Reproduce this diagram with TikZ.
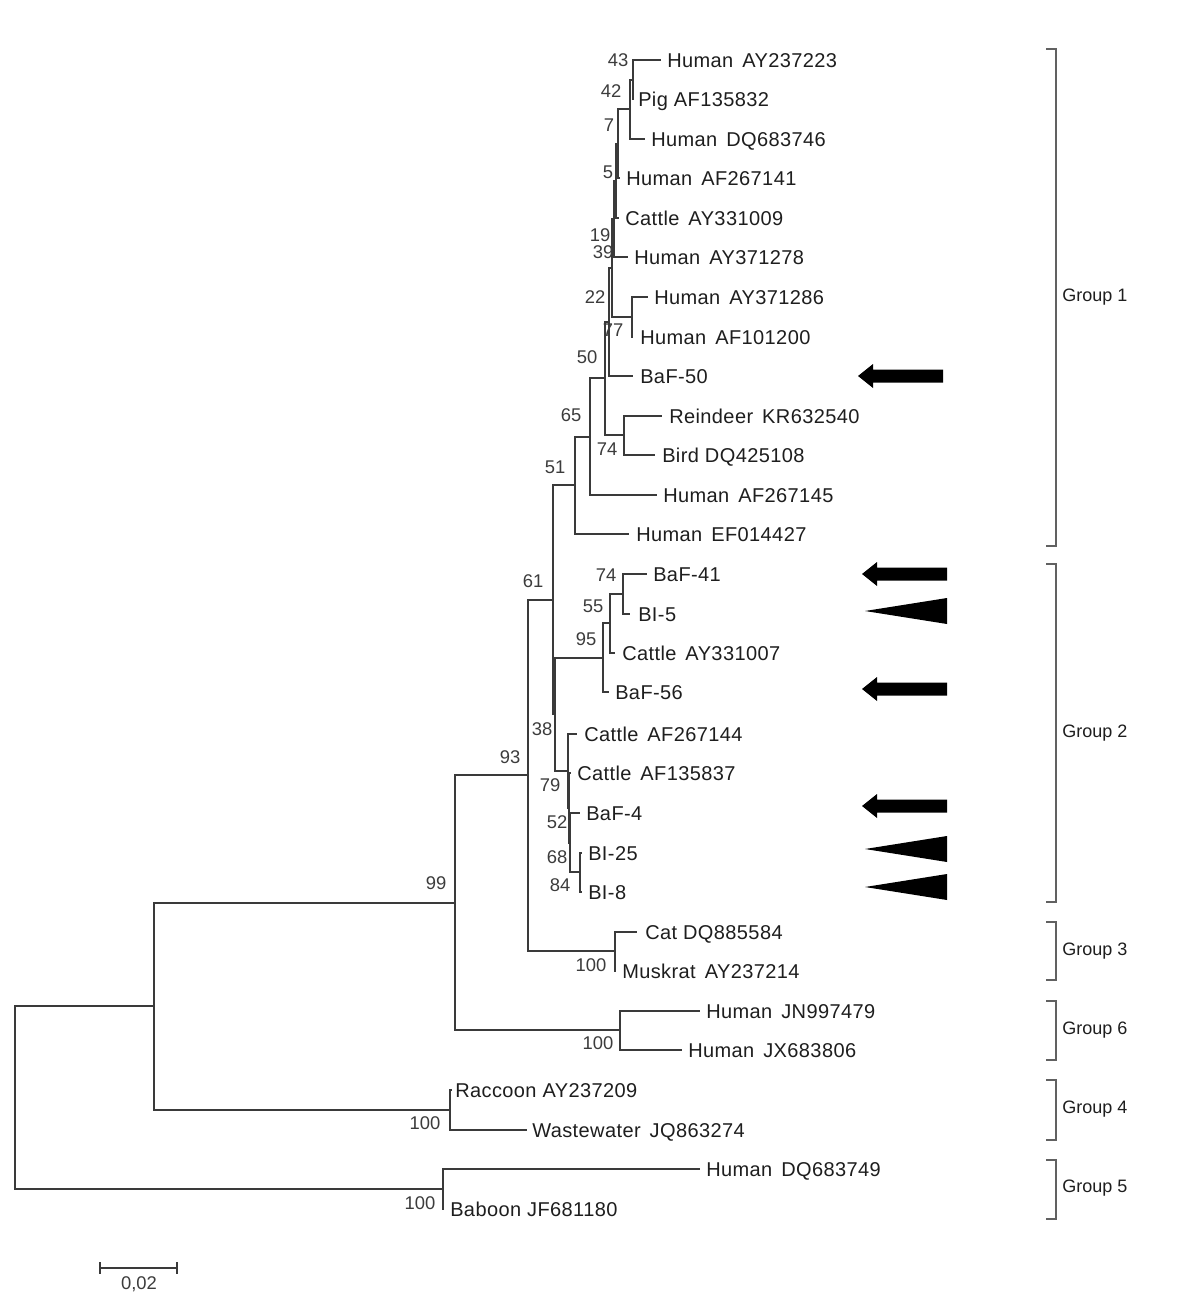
\documentclass[tikz,border=0pt]{standalone}
\usepackage{fontspec}
\setmainfont{Liberation Sans}
\newfontfamily\taxfont[LetterSpace=2]{Liberation Sans}
\definecolor{treegray}{HTML}{3A3A3A}
\definecolor{txt}{HTML}{1E1E1E}
\definecolor{boottxt}{HTML}{3C3C3C}
\newcommand\gap{\hspace{0.45em}}
\newcommand\leaf[5]{\coordinate (#1) at (#2,#4); \node[tax] (#1t) at (#3,#4) {#5};}
\tikzset{
  tree/.style={line width=1.1pt, draw=treegray},
  tax/.style={anchor=base west, yshift=-5.4pt, inner sep=0pt, text=txt, font=\taxfont\fontsize{15}{18}\selectfont},
  boot/.style={anchor=base, yshift=-4.9pt, inner sep=0pt, text=boottxt, font=\fontsize{13.8}{16}\selectfont},
  grp/.style={anchor=base west, yshift=-4.8pt, inner sep=0pt, text=txt, font=\fontsize{13.5}{16}\selectfont},
  brk/.style={line width=1.1pt, draw=black!62},
  fatarrow/.pic={\fill[black] (0,0) -- (15,-12) -- (15,-6.5) -- (85,-6.5) -- (85,6.5) -- (15,6.5) -- (15,12) -- cycle;},
  wedge/.pic={\fill[black] (0,0) -- (82,-13) -- (82,13) -- cycle;}
}
\begin{document}
\begin{tikzpicture}[x=0.75pt, y=-0.75pt]
\useasboundingbox (0,0) rectangle (1198,1298);
\fill[white] (0,0) rectangle (1198,1298);

% ---------- leaves ----------
\leaf{l1}{661}{667}{60}{Human\gap AY237223}
\leaf{l2}{634}{638}{99}{Pig AF135832}
\leaf{l3}{645}{651}{139}{Human\gap DQ683746}
\leaf{l4}{620}{626}{178}{Human\gap AF267141}
\leaf{l5}{619}{625}{218}{Cattle\gap AY331009}
\leaf{l6}{628}{634}{257}{Human\gap AY371278}
\leaf{l7}{648}{654}{297}{Human\gap AY371286}
\leaf{l8}{633}{640}{337}{Human\gap AF101200}
\leaf{l9}{633}{640}{376}{BaF-50}
\leaf{l10}{662}{669}{416}{Reindeer\gap KR632540}
\leaf{l11}{655}{662}{455}{Bird DQ425108}
\leaf{l12}{657}{663}{495}{Human\gap AF267145}
\leaf{l13}{629}{636}{534}{Human\gap EF014427}
\leaf{l14}{647}{653}{574}{BaF-41}
\leaf{l15}{630}{638}{614}{BI-5}
\leaf{l16}{615}{622}{653}{Cattle\gap AY331007}
\leaf{l17}{609}{615}{692}{BaF-56}
\leaf{l18}{577}{584}{734}{Cattle\gap AF267144}
\leaf{l19}{571}{577}{773}{Cattle\gap AF135837}
\leaf{l20}{580}{586}{813}{BaF-4}
\leaf{l21}{582}{588}{853}{BI-25}
\leaf{l22}{582}{588}{892}{BI-8}
\leaf{l23}{637}{645}{932}{Cat DQ885584}
\leaf{l24}{616}{622}{971}{Muskrat\gap AY237214}
\leaf{l25}{700}{706}{1011}{Human\gap JN997479}
\leaf{l26}{682}{688}{1050}{Human\gap JX683806}
\leaf{l27}{452}{455}{1090}{Raccoon AY237209}
\leaf{l28}{527}{532}{1130}{Wastewater\gap JQ863274}
\leaf{l29}{700}{706}{1169}{Human\gap DQ683749}
\leaf{l30}{444}{450}{1209}{Baboon JF681180}

% ---------- internal nodes ----------
\coordinate (n43) at (633,80);
\coordinate (n42) at (630,109);
\coordinate (n7) at (618,144);
\coordinate (n5) at (616,181);
\coordinate (n19) at (614,219);
\coordinate (n77) at (632,317);
\coordinate (n39) at (612,268);
\coordinate (n22) at (609,322);
\coordinate (n74a) at (624,435);
\coordinate (n50) at (605,378);
\coordinate (n65) at (590,437);
\coordinate (n51) at (575,485);
\coordinate (n74b) at (623,594);
\coordinate (n55) at (610,623);
\coordinate (n95) at (603,658);
\coordinate (n84) at (580,872);
\coordinate (n68) at (570,843);
\coordinate (n52) at (569,808);
\coordinate (n79) at (568,771);
\coordinate (n38) at (555,714);
\coordinate (n61) at (553,600);
\coordinate (n100a) at (615,951);
\coordinate (n93) at (528,775);
\coordinate (n100b) at (620,1030);
\coordinate (n99) at (455,903);
\coordinate (n100c) at (450,1110);
\coordinate (nA) at (154,1006);
\coordinate (n100d) at (443,1189);
\coordinate (root) at (15,1098);

% ---------- branches ----------
\foreach \p/\c in {n43/l1, n43/l2, n42/n43, n42/l3, n7/n42, n7/l4, n5/n7, n5/l5,
  n19/n5, n19/l6, n77/l7, n77/l8, n39/n19, n39/n77, n22/n39, n22/l9,
  n74a/l10, n74a/l11, n50/n22, n50/n74a, n65/n50, n65/l12, n51/n65, n51/l13,
  n74b/l14, n74b/l15, n55/n74b, n55/l16, n95/n55, n95/l17,
  n84/l21, n84/l22, n68/l20, n68/n84, n52/l19, n52/n68, n79/l18, n79/n52,
  n38/n95, n38/n79, n61/n51, n61/n38, n100a/l23, n100a/l24, n93/n61, n93/n100a,
  n100b/l25, n100b/l26, n99/n93, n99/n100b, n100c/l27, n100c/l28,
  nA/n99, nA/n100c, n100d/l29, n100d/l30, root/nA, root/n100d}
  \draw[tree] (\p) |- (\c);

% ---------- bootstrap values ----------
\node[boot] (b1) at (618,60) {43};
\node[boot] (b2) at (611,91) {42};
\node[boot] (b3) at (609,125) {7};
\node[boot] (b4) at (608,172) {5};
\node[boot] (b5) at (600,235) {19};
\node[boot] (b6) at (603,252) {39};
\node[boot] (b7) at (595,297) {22};
\node[boot] (b8) at (613,330) {77};
\node[boot] (b9) at (587,357) {50};
\node[boot] (b10) at (571,415) {65};
\node[boot] (b11) at (607,449) {74};
\node[boot] (b12) at (555,467) {51};
\node[boot] (b13) at (606,575) {74};
\node[boot] (b14) at (593,606) {55};
\node[boot] (b15) at (586,639) {95};
\node[boot] (b16) at (533,581) {61};
\node[boot] (b17) at (542,729) {38};
\node[boot] (b18) at (550,785) {79};
\node[boot] (b19) at (557,822) {52};
\node[boot] (b20) at (557,857) {68};
\node[boot] (b21) at (560,885) {84};
\node[boot] (b22) at (510,757) {93};
\node[boot] (b23) at (591,965) {100};
\node[boot] (b24) at (436,883) {99};
\node[boot] (b25) at (598,1043) {100};
\node[boot] (b26) at (425,1123) {100};
\node[boot] (b27) at (420,1203) {100};

% ---------- markers ----------
\pic at (858,376) {fatarrow};
\pic at (862,574) {fatarrow};
\pic at (862,689) {fatarrow};
\pic at (862,806) {fatarrow};
\pic at (865,611) {wedge};
\pic at (865,849) {wedge};
\pic at (865,887) {wedge};

% ---------- group brackets ----------
\draw[brk] (1046,49) -- (1056,49) -- (1056,546) -- (1046,546);
\node[grp] (g1) at (1062,295) {Group 1};
\draw[brk] (1046,564) -- (1056,564) -- (1056,902) -- (1046,902);
\node[grp] (g2) at (1062,731) {Group 2};
\draw[brk] (1046,922) -- (1056,922) -- (1056,980) -- (1046,980);
\node[grp] (g3) at (1062,949) {Group 3};
\draw[brk] (1046,1001) -- (1056,1001) -- (1056,1060) -- (1046,1060);
\node[grp] (g6) at (1062,1028) {Group 6};
\draw[brk] (1046,1080) -- (1056,1080) -- (1056,1140) -- (1046,1140);
\node[grp] (g4) at (1062,1107) {Group 4};
\draw[brk] (1046,1160) -- (1056,1160) -- (1056,1219) -- (1046,1219);
\node[grp] (g5) at (1062,1186) {Group 5};

% ---------- scale bar ----------
\coordinate (sb1) at (100,1268);
\coordinate (sb2) at (177,1268);
\draw[tree] (sb1) -- (sb2);
\draw[tree] ([yshift=4.5pt]sb1) -- ([yshift=-4.5pt]sb1);
\draw[tree] ([yshift=4.5pt]sb2) -- ([yshift=-4.5pt]sb2);
\node[boot] (sbl) at (139,1283) {0,02};
\end{tikzpicture}
\end{document}
